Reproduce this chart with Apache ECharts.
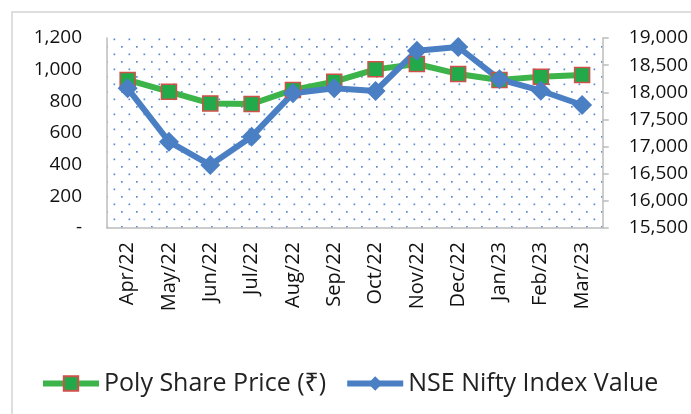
<!DOCTYPE html>
<html>
<head>
<meta charset="utf-8">
<script src="https://cdn.jsdelivr.net/npm/echarts@6/dist/echarts.min.js"></script>
<style>
  html, body { margin: 0; padding: 0; background: #fff; }
  #chart { width: 691px; height: 414px; }
</style>
</head>
<body>
<div id="chart"></div>
<script>
const months = ['Apr/22', 'May/22', 'Jun/22', 'Jul/22', 'Aug/22', 'Sep/22',
  'Oct/22', 'Nov/22', 'Dec/22', 'Jan/23', 'Feb/23', 'Mar/23']
const polyPrice = [935, 861, 787, 783, 872, 924, 1002, 1036, 973, 935, 956, 966]
const niftyValue = [18073, 17090, 16660, 17182, 17981, 18073, 18024, 18766, 18834, 18239, 18029, 17766]
const leftTicks = [0, 1200, 200]       // min, max, step
const rightTicks = [15500, 19000, 500]

const font = '"Open Sans", "Noto Sans", "DejaVu Sans", sans-serif'

// staggered dot fill like the excel plot area
function dotPattern() {
  let c = document.createElement('canvas')
  c.width = 15
  c.height = 15
  let ctx = c.getContext('2d')
  ctx.fillStyle = '#fff'
  ctx.fillRect(0, 0, 15, 15)
  ctx.fillStyle = '#5a8bd2'
  ctx.fillRect(1, 1, 1.7, 1.7)
  ctx.fillRect(8.5, 8.5, 1.7, 1.7)
  return {image: c, repeat: 'repeat'}
}

let chart = echarts.init(document.getElementById('chart'))

chart.setOption({
  animation: false,
  backgroundColor: '#fff',
  graphic: [{
    type: 'rect',
    shape: {x: 12, y: 12, width: 720, height: 440},
    style: {fill: 'none', stroke: '#d4d4d4', lineWidth: 1.5},
    silent: true,
    z: -10
  }],
  grid: {
    left: 107, right: 87, top: 38, bottom: 186,
    show: true, borderWidth: 0,
    backgroundColor: dotPattern()
  },
  legend: {
    bottom: 13, left: 35,
    itemWidth: 56, itemHeight: 18, itemGap: 18,
    textStyle: {fontFamily: font, fontSize: 25, color: '#222'},
    data: [
      {name: 'Poly Share Price (₹)', lineStyle: {width: 6}},
      {name: 'NSE Nifty Index Value', lineStyle: {width: 6}}
    ]
  },
  xAxis: {
    type: 'category',
    data: months,
    boundaryGap: true,
    axisLine: {lineStyle: {color: '#bcbcbc', width: 1.5}},
    axisTick: {show: false},
    axisLabel: {rotate: 90, margin: 14, fontFamily: font, fontSize: 20, color: '#111', interval: 0}
  },
  yAxis: [{
    type: 'value',
    min: leftTicks[0], max: leftTicks[1], interval: leftTicks[2],
    splitLine: {show: false},
    axisLine: {show: true, lineStyle: {color: '#bcbcbc', width: 1.5}},
    axisTick: {show: false},
    axisLabel: {
      margin: 25, fontFamily: font, fontSize: 19, color: '#111',
      formatter: v => v === 0 ? '-' : v.toLocaleString('en-US')
    }
  }, {
    type: 'value',
    position: 'right',
    min: rightTicks[0], max: rightTicks[1], interval: rightTicks[2],
    splitLine: {show: false},
    axisLine: {show: true, lineStyle: {color: '#bcbcbc', width: 1.5}},
    axisTick: {show: true, inside: false, length: 6, lineStyle: {color: '#bcbcbc', width: 1.5}},
    axisLabel: {
      margin: 26, fontFamily: font, fontSize: 19, color: '#111',
      formatter: v => v.toLocaleString('en-US')
    }
  }],
  series: [{
    name: 'Poly Share Price (₹)',
    type: 'line',
    yAxisIndex: 0,
    data: polyPrice,
    symbol: 'rect',
    symbolSize: 15,
    lineStyle: {color: '#3cb44a', width: 6},
    itemStyle: {color: '#22aa4a', borderColor: '#d0504a', borderWidth: 1.5}
  }, {
    name: 'NSE Nifty Index Value',
    type: 'line',
    yAxisIndex: 1,
    data: niftyValue,
    symbol: 'diamond',
    symbolSize: 20,
    lineStyle: {color: '#4a7fc4', width: 6},
    itemStyle: {color: '#4a7fc4'}
  }]
})
</script>
</body>
</html>
